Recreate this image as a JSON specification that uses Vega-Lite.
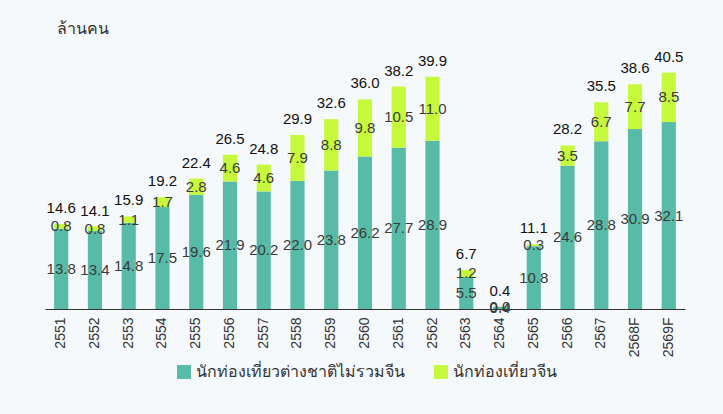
{
  "$schema": "https://vega.github.io/schema/vega-lite/v6.json",
  "width": 640,
  "height": 262,
  "autosize": {"type": "none"},
  "padding": {"left": 45, "top": 47, "right": 38, "bottom": 105},
  "background": "#f6f9fb",
  "title": {"text": "ล้านคน", "anchor": "start", "dx": 12, "offset": 10, "fontSize": 16, "fontWeight": "normal", "color": "#333333", "font": "Liberation Sans"},
  "config": {
    "view": {"stroke": null},
    "font": "Liberation Sans",
    "axis": {"labelFont": "Liberation Sans"},
    "legend": {"labelFont": "Liberation Sans"}
  },
  "datasets": {
    "bars": [
      {"year": "2551", "type": "นักท่องเที่ยวต่างชาติไม่รวมจีน", "value": 13.8},
      {"year": "2551", "type": "นักท่องเที่ยวจีน", "value": 0.8},
      {"year": "2552", "type": "นักท่องเที่ยวต่างชาติไม่รวมจีน", "value": 13.4},
      {"year": "2552", "type": "นักท่องเที่ยวจีน", "value": 0.8},
      {"year": "2553", "type": "นักท่องเที่ยวต่างชาติไม่รวมจีน", "value": 14.8},
      {"year": "2553", "type": "นักท่องเที่ยวจีน", "value": 1.1},
      {"year": "2554", "type": "นักท่องเที่ยวต่างชาติไม่รวมจีน", "value": 17.5},
      {"year": "2554", "type": "นักท่องเที่ยวจีน", "value": 1.7},
      {"year": "2555", "type": "นักท่องเที่ยวต่างชาติไม่รวมจีน", "value": 19.6},
      {"year": "2555", "type": "นักท่องเที่ยวจีน", "value": 2.8},
      {"year": "2556", "type": "นักท่องเที่ยวต่างชาติไม่รวมจีน", "value": 21.9},
      {"year": "2556", "type": "นักท่องเที่ยวจีน", "value": 4.6},
      {"year": "2557", "type": "นักท่องเที่ยวต่างชาติไม่รวมจีน", "value": 20.2},
      {"year": "2557", "type": "นักท่องเที่ยวจีน", "value": 4.6},
      {"year": "2558", "type": "นักท่องเที่ยวต่างชาติไม่รวมจีน", "value": 22.0},
      {"year": "2558", "type": "นักท่องเที่ยวจีน", "value": 7.9},
      {"year": "2559", "type": "นักท่องเที่ยวต่างชาติไม่รวมจีน", "value": 23.8},
      {"year": "2559", "type": "นักท่องเที่ยวจีน", "value": 8.8},
      {"year": "2560", "type": "นักท่องเที่ยวต่างชาติไม่รวมจีน", "value": 26.2},
      {"year": "2560", "type": "นักท่องเที่ยวจีน", "value": 9.8},
      {"year": "2561", "type": "นักท่องเที่ยวต่างชาติไม่รวมจีน", "value": 27.7},
      {"year": "2561", "type": "นักท่องเที่ยวจีน", "value": 10.5},
      {"year": "2562", "type": "นักท่องเที่ยวต่างชาติไม่รวมจีน", "value": 28.9},
      {"year": "2562", "type": "นักท่องเที่ยวจีน", "value": 11.0},
      {"year": "2563", "type": "นักท่องเที่ยวต่างชาติไม่รวมจีน", "value": 5.5},
      {"year": "2563", "type": "นักท่องเที่ยวจีน", "value": 1.2},
      {"year": "2564", "type": "นักท่องเที่ยวต่างชาติไม่รวมจีน", "value": 0.4},
      {"year": "2564", "type": "นักท่องเที่ยวจีน", "value": 0.0},
      {"year": "2565", "type": "นักท่องเที่ยวต่างชาติไม่รวมจีน", "value": 10.8},
      {"year": "2565", "type": "นักท่องเที่ยวจีน", "value": 0.3},
      {"year": "2566", "type": "นักท่องเที่ยวต่างชาติไม่รวมจีน", "value": 24.6},
      {"year": "2566", "type": "นักท่องเที่ยวจีน", "value": 3.5},
      {"year": "2567", "type": "นักท่องเที่ยวต่างชาติไม่รวมจีน", "value": 28.8},
      {"year": "2567", "type": "นักท่องเที่ยวจีน", "value": 6.7},
      {"year": "2568F", "type": "นักท่องเที่ยวต่างชาติไม่รวมจีน", "value": 30.9},
      {"year": "2568F", "type": "นักท่องเที่ยวจีน", "value": 7.7},
      {"year": "2569F", "type": "นักท่องเที่ยวต่างชาติไม่รวมจีน", "value": 32.1},
      {"year": "2569F", "type": "นักท่องเที่ยวจีน", "value": 8.5}
    ],
    "totals": [
      {"year": "2551", "total": 14.6},
      {"year": "2552", "total": 14.1},
      {"year": "2553", "total": 15.9},
      {"year": "2554", "total": 19.2},
      {"year": "2555", "total": 22.4},
      {"year": "2556", "total": 26.5},
      {"year": "2557", "total": 24.8},
      {"year": "2558", "total": 29.9},
      {"year": "2559", "total": 32.6},
      {"year": "2560", "total": 36.0},
      {"year": "2561", "total": 38.2},
      {"year": "2562", "total": 39.9},
      {"year": "2563", "total": 6.7},
      {"year": "2564", "total": 0.4},
      {"year": "2565", "total": 11.1},
      {"year": "2566", "total": 28.2},
      {"year": "2567", "total": 35.5},
      {"year": "2568F", "total": 38.6},
      {"year": "2569F", "total": 40.5}
    ]
  },
  "layer": [
    {
      "data": {"name": "bars"},
      "transform": [
        {"stack": "value", "groupby": ["year"], "sort": [{"field": "type", "order": "descending"}], "as": ["y0", "y1"]},
        {"calculate": "(datum.y0 + datum.y1) / 2", "as": "ymid"}
      ],
      "layer": [
        {
          "mark": {"type": "bar"},
          "encoding": {
            "x": {"field": "year", "type": "nominal", "sort": null,
                  "scale": {"paddingInner": 0.58, "paddingOuter": 0.27},
                  "axis": {"title": null, "labelAngle": -90, "labelFontSize": 14, "labelColor": "#333333", "ticks": false, "labelPadding": 8, "domainColor": "#333333", "domainWidth": 1}},
            "y": {"field": "y0", "type": "quantitative", "scale": {"domain": [0, 45], "nice": false}, "axis": null},
            "y2": {"field": "y1"},
            "color": {"field": "type", "type": "nominal",
                      "scale": {"domain": ["นักท่องเที่ยวต่างชาติไม่รวมจีน", "นักท่องเที่ยวจีน"], "range": ["#57bba8", "#c6f83c"]},
                      "legend": {"title": null, "orient": "none", "legendX": 131, "legendY": 317, "direction": "horizontal", "symbolType": "square", "symbolSize": 196, "symbolStrokeWidth": 0, "labelFontSize": 16, "labelColor": "#333333", "labelLimit": 400, "columnPadding": 28}}
          }
        },
        {
          "mark": {"type": "text", "fontSize": 15, "color": "#3a3a3a", "baseline": "middle"},
          "encoding": {
            "x": {"field": "year", "type": "nominal", "sort": null},
            "y": {"field": "ymid", "type": "quantitative"},
            "text": {"field": "value", "type": "quantitative", "format": ".1f"}
          }
        }
      ]
    },
    {
      "data": {"name": "totals"},
      "mark": {"type": "text", "fontSize": 15, "color": "#111111", "baseline": "alphabetic", "dy": -11},
      "encoding": {
        "x": {"field": "year", "type": "nominal", "sort": null},
        "y": {"field": "total", "type": "quantitative"},
        "text": {"field": "total", "type": "quantitative", "format": ".1f"}
      }
    }
  ]
}
